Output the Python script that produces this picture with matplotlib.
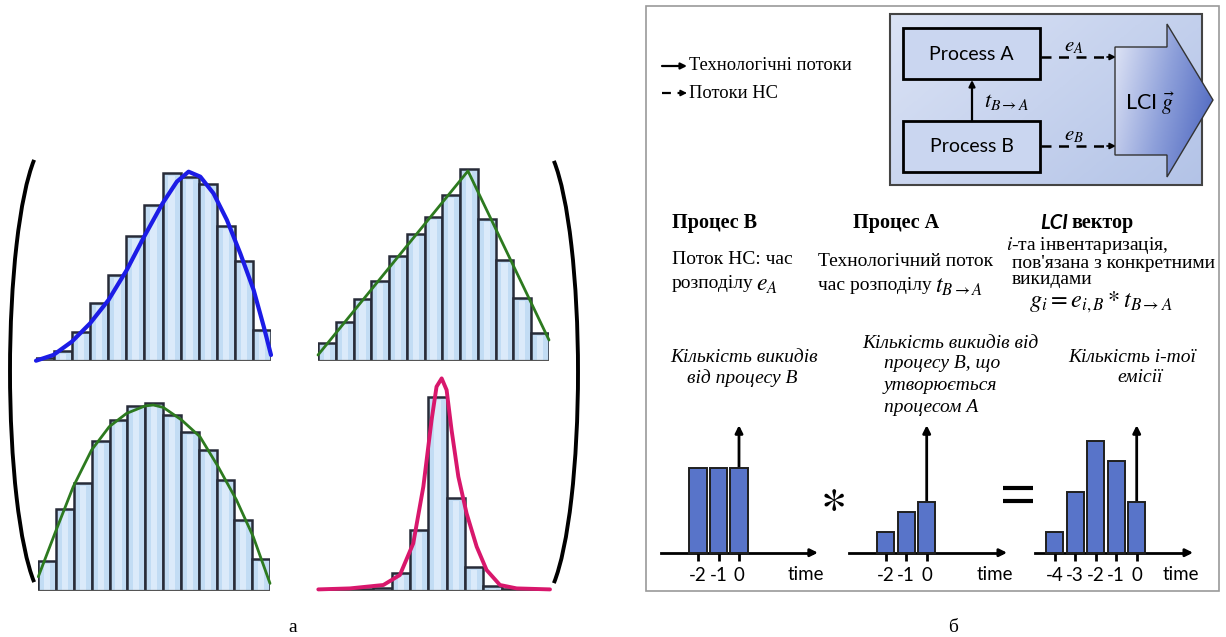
import numpy as np
import matplotlib
matplotlib.use("Agg")
import matplotlib.pyplot as plt
from matplotlib.patches import Rectangle, Polygon, Arc
from matplotlib.colors import LinearSegmentedColormap

plt.rcParams["mathtext.fontset"] = "stix"

W, H = 1226, 637
SERIF = ["Liberation Serif", "DejaVu Serif"]
SANS = ["Lato", "DejaVu Sans"]

# ---- panel a: histograms (13 bins) and the fitted curves
hist_skew = [3, 10, 29, 58, 86, 125, 156, 188, 184, 177, 135, 100, 31]
skew_x = [0, 0.96, 1.98, 2.99, 4.01, 5.02, 5.98, 7.0, 7.79, 8.44, 9.09, 9.82, 10.56, 11.3, 12.04, 12.6, 13.0]
skew_y = [0, 5.7, 19, 37.3, 60.7, 90.7, 124, 157.3, 179, 189, 184, 167.3, 140.7, 107.3, 70.7, 34, 5.7]

hist_tri = [18, 39, 62, 80, 105, 127, 144, 166, 192, 142, 101, 63, 28]
tri_x = [0, 8.44, 13]
tri_y = [6, 190, 21]

hist_sym = [30, 82, 108, 150, 171, 185, 188, 176, 159, 141, 111, 71, 32]
sym_x = [0, 0.93, 1.96, 2.99, 3.98, 4.95, 5.98, 6.45, 7.01, 8.04, 9.07, 10.09, 11.12, 12.06, 13]
sym_y = [14, 57.3, 104, 140.7, 164, 177.3, 184.7, 185.7, 183.3, 170.7, 154, 124, 90.7, 54, 7.3]

hist_peak = [1, 1, 2, 3, 18, 61, 194, 93, 24, 5, 2, 1, 1]
peak_x = [0, 1.73, 3.55, 4.45, 5.18, 5.73, 6.18, 6.45, 6.73, 7.0, 7.27, 7.64, 8.09, 8.64, 9.18, 9.91, 10.82, 12.64]
peak_y = [1.3, 2.3, 5.7, 15.7, 47.3, 104, 170.7, 204, 212.3, 200.7, 160.7, 114, 77.3, 44, 20.7, 5.7, 2.3, 1.3]

# ---- panel b: convolution of emission profiles
time_b = [-2, -1, 0]
emis_b = [1.67, 1.67, 1.67]
time_a = [-2, -1, 0]
flow_ba = [0.4, 0.8, 1.0]
time_g = [-4, -3, -2, -1, 0]
lci_g = [0.4, 1.2, 2.2, 1.8, 1.0]

fig = plt.figure(figsize=(W / 100, H / 100), dpi=100)


def px_axes(x0, y0, x1, y1):
    return fig.add_axes([x0 / W, 1 - y1 / H, (x1 - x0) / W, (y1 - y0) / H])


# overlay in pixel coordinates for the decorations
ov = px_axes(0, 0, W, H)
ov.set_xlim(0, W)
ov.set_ylim(H, 0)
ov.axis("off")


def hist_axes(x0, x1, base, xmax, counts, cx, cy, color, lw):
    ax = px_axes(x0, base - 215, x1, base)
    ax.set_xlim(0, xmax)
    ax.set_ylim(0, 215)
    ax.axis("off")
    pos = np.arange(len(counts)) + 0.5
    ax.bar(pos, counts, width=1, color="#c2dcf4", edgecolor="#272b38", linewidth=1.8, zorder=2)
    ax.bar(pos, [max(c - 3, 0) for c in counts], width=0.35, color="#dbeafa", linewidth=0, zorder=2)
    ax.axhline(0, color="#555555", lw=1.6, zorder=3)
    ax.plot(cx, cy, color=color, lw=lw, clip_on=False, solid_capstyle="round", zorder=4)
    return ax


hist_axes(36, 271, 360.7, 13, hist_skew, skew_x, skew_y, "#1c1ce6", 3.0)
hist_axes(318, 549, 361, 13, hist_tri, tri_x, tri_y, "#2d7a1f", 2.0)
hist_axes(38.3, 270, 590.7, 13, hist_sym, sym_x, sym_y, "#2d7a1f", 2.0)
hist_axes(318.3, 550, 590.7, 12.64, hist_peak, peak_x, peak_y, "#d8176c", 2.8)

# big parentheses (geometric angles of the ellipse end points)
ov.add_patch(Arc((50, 371), 80, 460, theta1=94.3, theta2=265.7, lw=2.8, color="k"))
ov.add_patch(Arc((538, 372), 80, 460, theta1=-85.7, theta2=85.7, lw=2.8, color="k"))

ov.text(293, 628, "а", family=SERIF, fontsize=14, ha="center", va="center")
ov.text(953, 628, "б", family=SERIF, fontsize=14, ha="center", va="center")

# ---- panel b frame
ov.add_patch(Rectangle((646, 6), 573, 585, fill=False, ec="#9a9a9a", lw=1.2))

# legend
ov.annotate("", xy=(687, 66), xytext=(662, 66),
            arrowprops=dict(arrowstyle="-|>", lw=1.6, color="k", mutation_scale=9, shrinkA=0, shrinkB=0))
ov.plot([662, 681], [93, 93], color="k", lw=1.6, dashes=(4, 3))
ov.annotate("", xy=(687, 93), xytext=(680, 93),
            arrowprops=dict(arrowstyle="-|>", lw=1.2, color="k", mutation_scale=9, shrinkA=0, shrinkB=0))
ov.text(689, 66, "Технологічні потоки", family=SERIF, fontsize=13.3, va="center")
ov.text(689, 93, "Потоки НС", family=SERIF, fontsize=13.3, va="center")

# blue diagram box with gradient
gx, gy = np.meshgrid(np.linspace(0, 1, 200), np.linspace(0, 1, 120))
box_cmap = LinearSegmentedColormap.from_list("box", ["#dbe3f5", "#b3c3e7"])
ov.imshow(0.6 * gx + 0.4 * gy, cmap=box_cmap, extent=(890, 1202, 185, 14), aspect="auto", zorder=1)
ov.add_patch(Rectangle((890, 14), 312, 171, fill=False, ec="#444444", lw=1.5, zorder=2))

for y0, name in [(28, "Process A"), (121, "Process B")]:
    ov.add_patch(Rectangle((903, y0), 137, 51, fc="#cad6f0", ec="k", lw=2, zorder=3))
    ov.text(971.5, y0 + 26, name, family=SANS, fontsize=14, ha="center", va="center", zorder=4)

ov.annotate("", xy=(972, 80), xytext=(972, 121), zorder=4,
            arrowprops=dict(arrowstyle="-|>", lw=1.6, color="k", mutation_scale=9, shrinkA=0, shrinkB=0))
ov.text(984, 102, r"$t_{B\rightarrow A}$", fontsize=16, va="center", zorder=4)

for y0, lab in [(57, r"$e_A$"), (146, r"$e_B$")]:
    ov.plot([1041, 1108], [y0, y0], color="k", lw=1.8, dashes=(4, 3), zorder=4)
    ov.annotate("", xy=(1116, y0), xytext=(1107, y0), zorder=4,
                arrowprops=dict(arrowstyle="-|>", lw=1.2, color="k", mutation_scale=9, shrinkA=0, shrinkB=0))
    ov.text(1074, y0 - 11, lab, fontsize=15, ha="center", va="center", zorder=4)

arrow_pts = [(1115, 47), (1167, 47), (1167, 24), (1213, 100), (1167, 177), (1167, 155), (1115, 155)]
arrow_patch = Polygon(arrow_pts, closed=True, fc="none", ec="#333333", lw=1.0, zorder=5)
ov.add_patch(arrow_patch)
ax_x, ax_y = np.meshgrid(np.linspace(0, 1, 200), np.linspace(0, 1, 160))
arr_cmap = LinearSegmentedColormap.from_list("arr", ["#e3e8f7", "#8ea0da", "#4660bd"])
im = ov.imshow(0.75 * ax_x + 0.25 * ax_y, cmap=arr_cmap, extent=(1115, 1213, 177, 24), aspect="auto", zorder=4)
im.set_clip_path(arrow_patch)
ov.text(1150, 104, r"LCI $\vec{g}$", family=SANS, fontsize=15.5, ha="center", va="center", zorder=6)
ov.set_xlim(0, W)
ov.set_ylim(H, 0)

# headings
ov.text(672, 223, "Процес В", family=SERIF, fontsize=14.5, weight="bold", va="center")
ov.text(853, 223, "Процес А", family=SERIF, fontsize=14.5, weight="bold", va="center")
ov.text(1068, 223, "LCI", family=SANS, fontsize=14.5, weight="bold", style="italic", ha="right", va="center")
ov.text(1134, 223, "вектор", family=SERIF, fontsize=14.5, weight="bold", ha="right", va="center")

# descriptions
body = dict(family=SERIF, fontsize=14, va="center")
ov.text(672, 260, "Поток НС: час", **body)
ov.text(672, 283, "розподілу", **body)
ov.text(756, 284, r"$e_A$", fontsize=17, va="center")
ov.text(818, 262, "Технологічний поток", **body)
ov.text(818, 285, "час розподілу", **body)
ov.text(935, 286, r"$t_{B\rightarrow A}$", fontsize=17, va="center")
ov.text(1006, 246, r"$i$-та інвентаризація,", **body)
ov.text(1012, 263, "пов'язана з конкретними", **body)
ov.text(1012, 280, "викидами", **body)
ov.text(1101, 302, r"$g_i = e_{i,B} * t_{B\rightarrow A}$", fontsize=17.5, ha="center", va="center")

# italic captions over the small charts
ital = dict(family=SERIF, fontsize=14, style="italic", va="center")
ov.text(744, 357, "Кількість викидів", ha="center", **ital)
ov.text(742, 378, "від процесу В", ha="center", **ital)
ov.text(862, 343, "Кількість викидів від", ha="left", **ital)
ov.text(884, 364, "процесу В, що", ha="left", **ital)
ov.text(884, 386, "утворюється", ha="left", **ital)
ov.text(884, 408, "процесом А", ha="left", **ital)
ov.text(1132, 357, "Кількість і-тої", ha="center", **ital)
ov.text(1140, 378, "емісії", ha="center", **ital)

ov.text(832, 497, r"$\ast$", fontsize=36, ha="center", va="center")
ov.plot([1003, 1033], [488, 488], color="k", lw=3.0, solid_capstyle="butt")
ov.plot([1003, 1033], [501, 501], color="k", lw=3.0, solid_capstyle="butt")
ov.set_xlim(0, W)
ov.set_ylim(H, 0)


def conv_axes(x_zero, t, v, xmin, xmax):
    sx, sy, base = 20.5, 51.0, 552.7
    lo, hi = xmin - 0.4, xmax + 0.4
    ax = px_axes(x_zero + lo * sx, base - 2.6 * sy, x_zero + hi * sx, base + 0.6 * sy)
    ax.set_xlim(lo, hi)
    ax.set_ylim(-0.6, 2.6)
    ax.patch.set_visible(False)
    ax.bar(t, v, width=0.83, color="#5874c9", edgecolor="#1f1f1f", linewidth=1.4, zorder=3)
    for s in ["left", "right", "top"]:
        ax.spines[s].set_visible(False)
    ax.spines["bottom"].set_position(("data", 0))
    ax.spines["bottom"].set_bounds(xmin, xmax - 0.3)
    ax.spines["bottom"].set_linewidth(2)
    ax.set_yticks([])
    ax.set_xticks(t)
    ax.set_xticklabels([str(k) for k in t])
    ax.tick_params(axis="x", direction="out", length=6, width=2, pad=4, labelsize=13.5,
                   labelfontfamily="Lato")
    ax.annotate("", xy=(xmax, 0), xytext=(xmax - 0.4, 0), zorder=2,
                arrowprops=dict(arrowstyle="-|>", lw=2, color="k", mutation_scale=11, shrinkA=0, shrinkB=0))
    ax.annotate("", xy=(0, 2.5), xytext=(0, 0), zorder=2,
                arrowprops=dict(arrowstyle="-|>", lw=2, color="k", mutation_scale=11, shrinkA=0, shrinkB=0))
    ax.text(xmax - 0.6, -0.42, "time", family=SANS, fontsize=13.5, ha="center", va="center")
    return ax


conv_axes(739, time_b, emis_b, -3.82, 3.85)
conv_axes(926.7, time_a, flow_ba, -3.79, 3.92)
conv_axes(1136.7, time_g, lci_g, -4.98, 2.75)

fig.savefig("out.png", dpi=100)
